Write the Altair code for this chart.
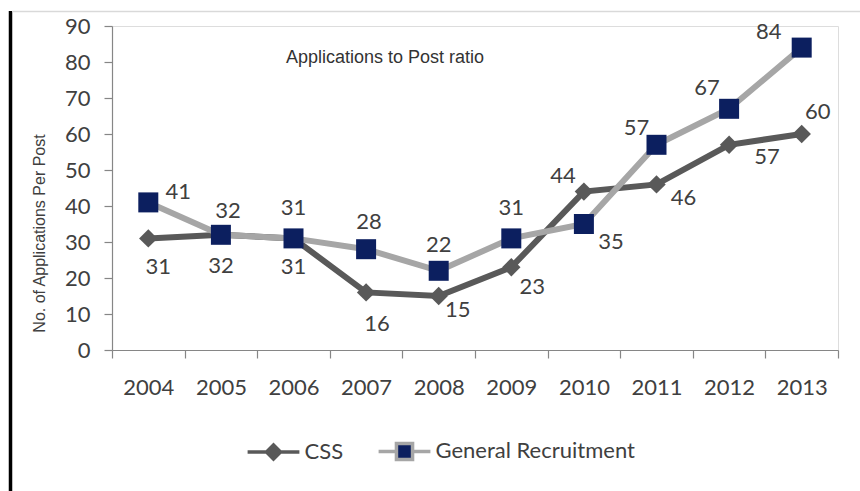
import altair as alt
import pandas as pd

# ---------------- data ----------------
years = ["2004", "2005", "2006", "2007", "2008", "2009", "2010", "2011", "2012", "2013"]
css_values = [31, 32, 31, 16, 15, 23, 44, 46, 57, 60]
general_values = [41, 32, 31, 28, 22, 31, 35, 57, 67, 84]
series_names = ["CSS", "General Recruitment"]
y_ticks = [0, 10, 20, 30, 40, 50, 60, 70, 80, 90]
chart_title = "Applications to Post ratio"
y_title = "No. of Applications Per Post"

# label placement (pixel offsets, style only)
css_label_dx = [10, 0, 0, 11, 19, 21, -21, 27, 38, 16]
css_label_dy = [29, 31, 29, 32, 14, 20, -16, 14, 12, -22]
gen_label_dx = [30, 7, 0, 3, 0, 0, 27, -20, -22, -33]
gen_label_dy = [-10, -24, -30, -27, -26, -30, 18, -17, -21, -16]

# ---------------- styles ----------------
CSS_DARK = "#595959"
GEN_LINE = "#A6A6A6"
NAVY = "#0C1F5F"
TEXT = "#404040"
AXIS = "#868686"
NUM_FONT = "Lato"
SANS = "Liberation Sans"
NUM_SIZE = 22

rows = []
for yr, v in zip(years, css_values):
    rows.append({"year": yr, "series": series_names[0], "value": v})
for yr, v in zip(years, general_values):
    rows.append({"year": yr, "series": series_names[1], "value": v})
df = pd.DataFrame(rows)

base = alt.Chart(df)

x_enc = alt.X(
    "year:O",
    sort=years,
    scale=alt.Scale(type="band", paddingInner=0, paddingOuter=0),
    axis=alt.Axis(
        title=None, labelAngle=0, tickBand="extent", tickSize=8,
        tickColor=AXIS, domainColor=AXIS, tickWidth=1.2, domainWidth=1.2,
        labelFont=NUM_FONT, labelFontSize=NUM_SIZE, labelColor=TEXT, labelPadding=19,
    ),
)
y_enc = alt.Y(
    "value:Q",
    scale=alt.Scale(domain=[0, 90], nice=False),
    axis=alt.Axis(
        values=y_ticks, grid=False, tickSize=8, tickColor=AXIS, domainColor=AXIS,
        tickWidth=1.2, domainWidth=1.2,
        labelFont=NUM_FONT, labelFontSize=NUM_SIZE, labelColor=TEXT, labelPadding=14,
        title=y_title, titleFont=SANS, titleFontSize=16,
        titleFontWeight="normal", titleColor=TEXT, titleX=-65, titleY=207,
    ),
)

css_data = base.transform_filter(alt.datum.series == series_names[0])
gen_data = base.transform_filter(alt.datum.series == series_names[1])

css_line = css_data.mark_line(strokeWidth=6, color=CSS_DARK).encode(x=x_enc, y=y_enc)
gen_line = gen_data.mark_line(strokeWidth=6, color=GEN_LINE).encode(x=x_enc, y=y_enc)

css_pts = css_data.mark_point(
    filled=True, shape="diamond", size=340, opacity=1, fill=CSS_DARK, strokeWidth=0
).encode(x=x_enc, y=y_enc)
gen_pts = gen_data.mark_point(
    filled=True, shape="square", size=400, opacity=1, fill=NAVY, strokeWidth=0
).encode(x=x_enc, y=y_enc)

label_layers = []
for name, dxs, dys in [(series_names[0], css_label_dx, css_label_dy),
                       (series_names[1], gen_label_dx, gen_label_dy)]:
    for yr, dx, dy in zip(years, dxs, dys):
        label_layers.append(
            base.transform_filter((alt.datum.series == name) & (alt.datum.year == yr))
            .mark_text(dx=dx, dy=dy, font=NUM_FONT, fontSize=NUM_SIZE, color=TEXT)
            .encode(x=x_enc, y=y_enc, text="value:Q")
        )

# legend carrier: zero-size marks, legend symbols drawn from the scales
path_css = "M-3.7,0H3.7M0,-1L1,0L0,1L-1,0Z"
path_gen = "M-3.7,0H-1.15M1.15,0H3.7M-1.15,-1.15H1.15V1.15H-1.15Z"
leg = alt.Legend(
    title=None, orient="none", legendX=131.5, legendY=414, direction="horizontal",
    labelFont=NUM_FONT, labelFontSize=NUM_SIZE, labelColor=TEXT, labelLimit=500,
    symbolSize=196, symbolStrokeWidth=3.5, symbolOffset=19, labelOffset=20,
    columnPadding=28, padding=0, symbolOpacity=1,
)
legend_layer = base.mark_point(
    filled=True, size=0, strokeWidth=3.5
).encode(
    x=x_enc, y=y_enc,
    shape=alt.Shape("series:N", scale=alt.Scale(domain=series_names, range=[path_css, path_gen]), legend=leg),
    fill=alt.Fill("series:N", scale=alt.Scale(domain=series_names, range=[CSS_DARK, NAVY]), legend=leg),
    stroke=alt.Stroke("series:N", scale=alt.Scale(domain=series_names, range=[CSS_DARK, GEN_LINE]), legend=leg),
)

# title inside the plot area
title_layer = alt.Chart(pd.DataFrame({"t": [chart_title]})).mark_text(
    font=SANS, fontSize=18, color="#333333", align="center", baseline="middle"
).encode(x=alt.value(273), y=alt.value(32), text="t:N")

# frame decorations of the original picture
one = alt.Chart(pd.DataFrame({"k": [0]}))
black_bar = one.mark_rule(color="black", strokeWidth=3.5).encode(
    x=alt.value(-101.5), y=alt.value(-15), y2=alt.value(465)
)
top_line = one.mark_rule(color="#d9d9d9", strokeWidth=1.5).encode(
    x=alt.value(-100), x2=alt.value(748), y=alt.value(-14.5)
)

chart = alt.layer(
    black_bar, top_line, title_layer, css_line, gen_line, css_pts, gen_pts,
    *label_layers, legend_layer
).properties(
    width=726,
    height=324,
    autosize=alt.AutoSizeParams(type="none"),
    padding={"left": 112, "top": 26, "right": 22, "bottom": 141},
).configure_view(stroke=None).configure(background="white")

chart.save("out.html", embed_options={"renderer": "svg", "actions": False})
